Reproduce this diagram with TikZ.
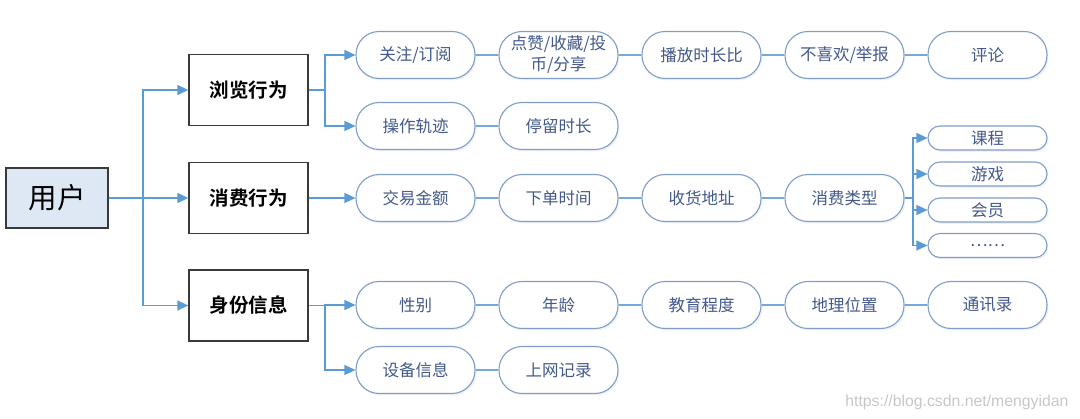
\documentclass[tikz,border=0pt]{standalone}
\usepackage{fontspec}
\setmainfont{Liberation Sans}
\newfontfamily\cjk{Noto Sans CJK SC}
\newfontfamily\cjkb{Noto Sans CJK SC Bold}
\usetikzlibrary{arrows.meta,shadows}
\definecolor{arrowblue}{HTML}{5B9BD5}
\definecolor{pillborder}{HTML}{7F9DC6}
\definecolor{pilltext}{HTML}{43598A}
\definecolor{userfill}{HTML}{DDE8F4}
\definecolor{boxborder}{HTML}{3A3A3A}
\tikzset{
  pill/.style={draw=pillborder, line width=1.1pt, fill=white, rounded corners=23pt,
    minimum width=119pt, minimum height=47pt, inner sep=1pt, align=center,
    text=pilltext, font=\cjk\fontsize{16.5}{18}\selectfont,
    drop shadow={opacity=0.12, shadow xshift=1.5pt, shadow yshift=-2pt, fill=pillborder}},
  smallpill/.style={pill, rounded corners=12pt, minimum height=24pt},
  catbox/.style={draw=boxborder, line width=1.3pt, fill=white, minimum width=119pt,
    minimum height=71pt, font=\cjkb\fontsize{19.5}{22}\selectfont, text=black},
  arr/.style={draw=arrowblue, line width=1.4pt, -{Triangle[length=11pt,width=10pt]}},
  link/.style={draw=arrowblue!85, line width=1.4pt},
}
\begin{document}
\begin{tikzpicture}[x=1pt,y=-1pt]
\useasboundingbox (0,0) rectangle (1080,419);
% root
\node[draw=boxborder, line width=1.3pt, fill=userfill, minimum width=102pt, minimum height=60pt,
  font=\cjk\fontsize{28.5}{30}\selectfont] (user) at (57,198) {用户};
% categories
\node[catbox] (b1) at (248.5,90) {浏览行为};
\node[catbox] (b2) at (248.5,198) {消费行为};
\node[catbox] (b3) at (248.5,305.5) {身份信息};
% row 1
\node[pill] (p11) at (415.5,55) {关注/订阅};
\node[pill] (p12) at (558.5,55) {点赞/收藏/投\\[3pt]币/分享};
\node[pill] (p13) at (701.5,55) {播放时长比};
\node[pill] (p14) at (844.5,55) {不喜欢/举报};
\node[pill] (p15) at (987.5,55) {评论};
% row 2
\node[pill] (p21) at (415.5,126) {操作轨迹};
\node[pill] (p22) at (558.5,126) {停留时长};
% row 3
\node[pill] (p31) at (415.5,198) {交易金额};
\node[pill] (p32) at (558.5,198) {下单时间};
\node[pill] (p33) at (701.5,198) {收货地址};
\node[pill] (p34) at (844.5,198) {消费类型};
\node[smallpill] (s1) at (987.5,138) {课程};
\node[smallpill] (s2) at (987.5,174) {游戏};
\node[smallpill] (s3) at (987.5,210) {会员};
\node[smallpill] (s4) at (987.5,245.5) {……};
% row 4
\node[pill] (p41) at (415.5,305) {性别};
\node[pill] (p42) at (558.5,305) {年龄};
\node[pill] (p43) at (701.5,305) {教育程度};
\node[pill] (p44) at (844.5,305) {地理位置};
\node[pill] (p45) at (987.5,305) {通讯录};
% row 5
\node[pill] (p51) at (415.5,370) {设备信息};
\node[pill] (p52) at (558.5,370) {上网记录};
% junctions
\coordinate (j1) at (143,198);
\coordinate (j2) at (325,90);
\coordinate (j3) at (325,305.5);
\coordinate (j4) at (913,198);
% arrows
\draw[arr] (user.east) -- (j1) |- (b1.west);
\draw[arr] (j1) -- (b2.west);
\draw[arr] (j1) |- (b3.west);
\draw[arr] (b1.east) -- (j2) |- (p11.west);
\draw[arr] (j2) |- (p21.west);
\draw[arr] (b2.east) -- (p31.west);
\draw[arr] (b3.east) -- (j3) |- (p41.west);
\draw[arr] (j3) |- (p51.west);
\draw[arr] (p34.east) -- (j4) |- (s1.west);
\draw[arr] (j4) |- (s2.west);
\draw[arr] (j4) |- (s3.west);
\draw[arr] (j4) |- (s4.west);
% links
\draw[link] (p11) -- (p12);
\draw[link] (p12) -- (p13);
\draw[link] (p13) -- (p14);
\draw[link] (p14) -- (p15);
\draw[link] (p21) -- (p22);
\draw[link] (p31) -- (p32);
\draw[link] (p32) -- (p33);
\draw[link] (p33) -- (p34);
\draw[link] (p41) -- (p42);
\draw[link] (p42) -- (p43);
\draw[link] (p43) -- (p44);
\draw[link] (p44) -- (p45);
\draw[link] (p51) -- (p52);
% watermark
\node[text=black!22, font=\fontsize{15.8}{17}\selectfont, anchor=east] (wm) at (1072,402) {https://blog.csdn.net/mengyidan};
\end{tikzpicture}
\end{document}
